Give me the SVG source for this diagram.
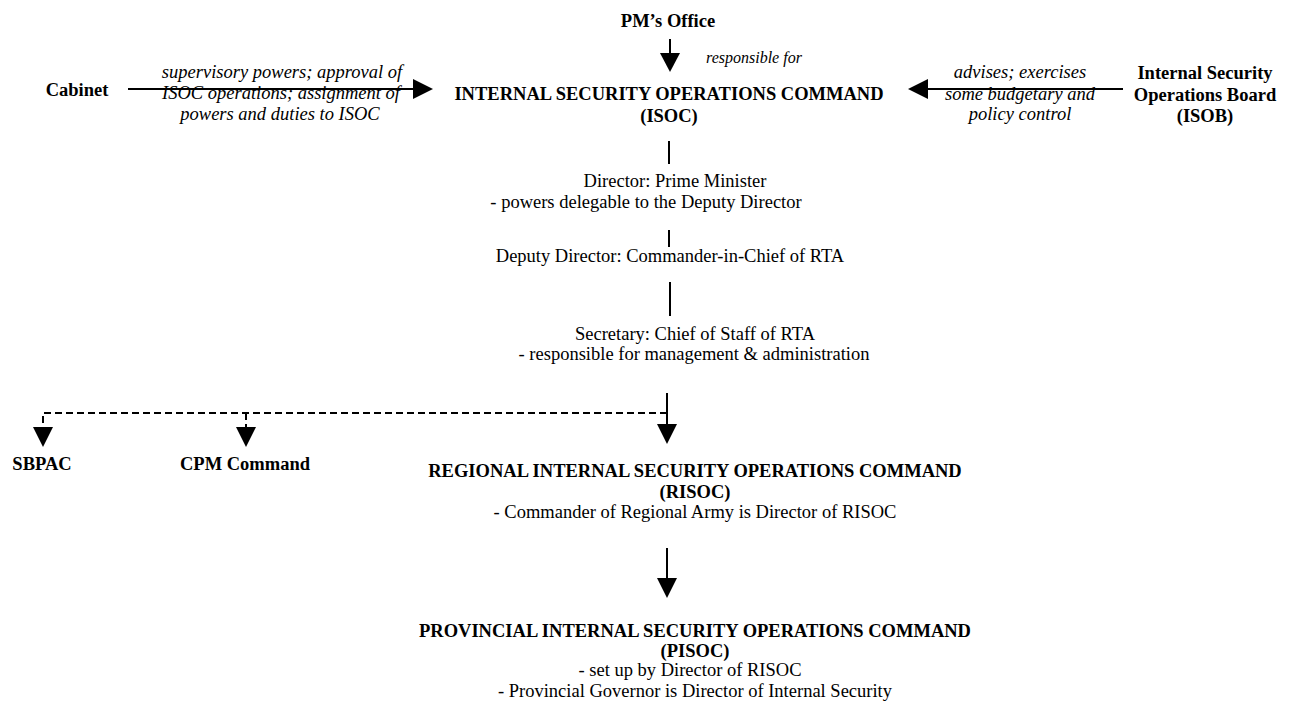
<svg xmlns="http://www.w3.org/2000/svg" width="1289" height="704" viewBox="0 0 1289 704">
<style>
text{font-family:"Liberation Serif","Times New Roman",serif;font-size:18.5px;fill:#000;text-anchor:middle}
.b{font-weight:bold}
.i{font-style:italic}
.s{font-size:16px;text-anchor:start}
.ln{stroke:#000;stroke-width:2;fill:none}
.d{stroke-dasharray:7 4}
.ah{fill:#000}
</style>
<rect width="1289" height="704" fill="#fff"/>
<g id="connectors">
<line class="ln" x1="670" y1="39" x2="670" y2="54"/>
<polygon class="ah" points="660,53 680,53 670,72"/>
<line class="ln" x1="128" y1="89" x2="414" y2="89"/>
<polygon class="ah" points="413,79 433,89 413,99"/>
<line class="ln" x1="1123" y1="89" x2="927" y2="89"/>
<polygon class="ah" points="928,79 908,89 928,99"/>
<line class="ln" x1="669" y1="141" x2="669" y2="164"/>
<line class="ln" x1="669" y1="230" x2="669" y2="247"/>
<line class="ln" x1="670" y1="282" x2="670" y2="316"/>
<line class="ln" x1="667" y1="393" x2="667" y2="425"/>
<polygon class="ah" points="657,424 677,424 667,444"/>
<polyline class="ln d" points="667,413 43,413 43,428"/>
<line class="ln d" x1="246" y1="413" x2="246" y2="428"/>
<polygon class="ah" points="33,427 53,427 43,447"/>
<polygon class="ah" points="236,427 256,427 246,447"/>
<line class="ln" x1="667" y1="548" x2="667" y2="579"/>
<polygon class="ah" points="657,578 677,578 667,598"/>
</g>
<g id="pm-office"><text class="b" x="668" y="27">PM’s Office</text></g>
<g id="pm-label"><text class="i s" x="706" y="63">responsible for</text></g>
<g id="cabinet"><text class="b" x="77" y="96">Cabinet</text></g>
<g id="cabinet-label">
<text class="i" x="282" y="78">supervisory powers; approval of</text>
<text class="i" x="281" y="99">ISOC operations; assignment of</text>
<text class="i" x="280" y="120">powers and duties to ISOC</text>
</g>
<g id="isoc">
<text class="b" x="669" y="100">INTERNAL SECURITY OPERATIONS COMMAND</text>
<text class="b" x="669" y="122">(ISOC)</text>
</g>
<g id="isob-label">
<text class="i" x="1020" y="78">advises; exercises</text>
<text class="i" x="1020" y="100">some budgetary and</text>
<text class="i" x="1020" y="120">policy control</text>
</g>
<g id="isob">
<text class="b" x="1205" y="79">Internal Security</text>
<text class="b" x="1205" y="101">Operations Board</text>
<text class="b" x="1205" y="122">(ISOB)</text>
</g>
<g id="director">
<text x="675" y="187">Director: Prime Minister</text>
<text x="646" y="208">- powers delegable to the Deputy Director</text>
</g>
<g id="deputy"><text x="670" y="262">Deputy Director: Commander-in-Chief of RTA</text></g>
<g id="secretary">
<text x="695" y="340">Secretary: Chief of Staff of RTA</text>
<text x="694" y="360">- responsible for management &amp; administration</text>
</g>
<g id="sbpac"><text class="b" x="42" y="470">SBPAC</text></g>
<g id="cpm"><text class="b" x="245" y="470">CPM Command</text></g>
<g id="risoc">
<text class="b" x="695" y="477">REGIONAL INTERNAL SECURITY OPERATIONS COMMAND</text>
<text class="b" x="695" y="498">(RISOC)</text>
<text x="695" y="518">- Commander of Regional Army is Director of RISOC</text>
</g>
<g id="pisoc">
<text class="b" x="695" y="637">PROVINCIAL INTERNAL SECURITY OPERATIONS COMMAND</text>
<text class="b" x="695" y="657">(PISOC)</text>
<text x="690" y="676">- set up by Director of RISOC</text>
<text x="695" y="697">- Provincial Governor is Director of Internal Security</text>
</g>
</svg>
